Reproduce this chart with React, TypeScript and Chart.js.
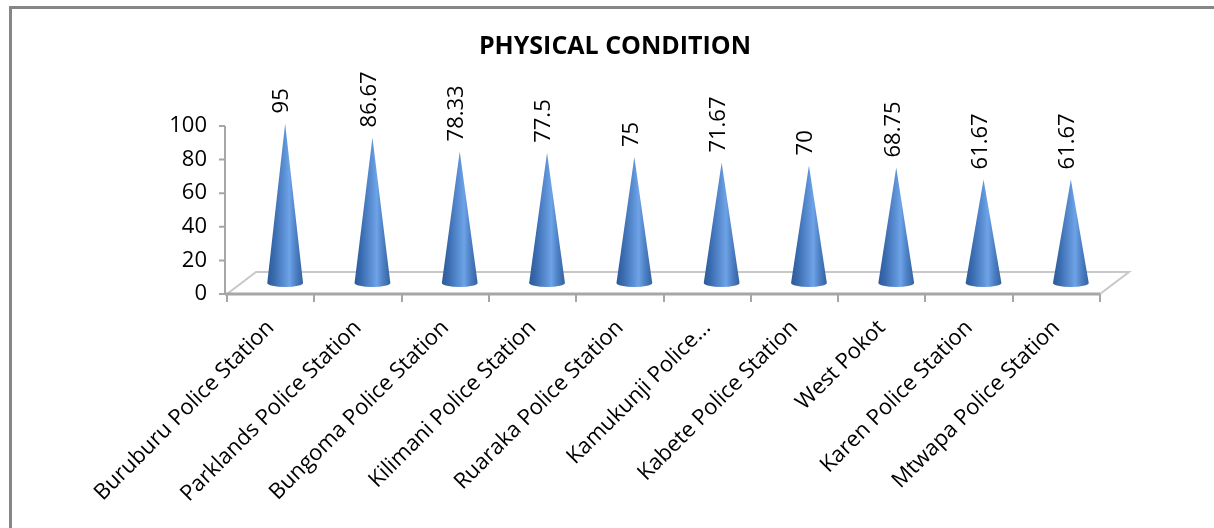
import React, { useEffect, useRef } from "react";
import { Chart, registerables } from "chart.js";

Chart.register(...registerables);

const chartTitle = "PHYSICAL CONDITION";
const categories = [
  "Buruburu Police Station",
  "Parklands Police Station",
  "Bungoma Police Station",
  "Kilimani Police Station",
  "Ruaraka Police Station",
  "Kamukunji Police...",
  "Kabete Police Station",
  "West Pokot",
  "Karen Police Station",
  "Mtwapa Police Station",
];
const values = [95, 86.67, 78.33, 77.5, 75, 71.67, 70, 68.75, 61.67, 61.67];
const valueLabels = ["95", "86.67", "78.33", "77.5", "75", "71.67", "70", "68.75", "61.67", "61.67"];
const yTickValues = [0, 20, 40, 60, 80, 100];

const W = 1214;
const H = 528;
const FONT = "'Open Sans', 'DejaVu Sans', sans-serif";
// 3D depth offset of the back wall relative to the front plane
const DX = 29;
const DY = -22;

const conePlugin = {
  id: "cone3d",
  beforeDraw(chart: any) {
    const ctx = chart.ctx;
    ctx.save();
    ctx.fillStyle = "#ffffff";
    ctx.fillRect(0, 0, chart.width, chart.height);
    // outer frame (top + left visible)
    ctx.strokeStyle = "#868686";
    ctx.lineWidth = 3;
    ctx.beginPath();
    ctx.moveTo(10.5, chart.height);
    ctx.lineTo(10.5, 7.5);
    ctx.lineTo(chart.width, 7.5);
    ctx.stroke();
    ctx.restore();
  },
  beforeDatasetsDraw(chart: any) {
    const ctx = chart.ctx;
    const xs = chart.scales.x;
    const ys = chart.scales.y;
    const y0 = ys.getPixelForValue(0);
    const left = xs.left;
    const right = xs.right;
    ctx.save();
    // floor: back edge + side diagonals
    ctx.strokeStyle = "#c8c8c8";
    ctx.lineWidth = 2;
    ctx.beginPath();
    ctx.moveTo(left, y0);
    ctx.lineTo(left + DX, y0 + DY);
    ctx.lineTo(right + DX, y0 + DY);
    ctx.lineTo(right, y0);
    ctx.stroke();
    // front edge (category axis)
    ctx.strokeStyle = "#a6a6a6";
    ctx.lineWidth = 3;
    ctx.beginPath();
    ctx.moveTo(left - 2, y0);
    ctx.lineTo(right, y0);
    ctx.stroke();
    // category tick marks at boundaries
    ctx.lineWidth = 2;
    const n = categories.length;
    const step = (right - left) / n;
    ctx.beginPath();
    for (let i = 0; i <= n; i++) {
      const x = Math.round(left + i * step);
      ctx.moveTo(x, y0);
      ctx.lineTo(x, y0 + 8);
    }
    ctx.stroke();
    // value axis line and ticks
    const ax = left - 2;
    ctx.beginPath();
    ctx.moveTo(ax, y0 + 1);
    ctx.lineTo(ax, ys.getPixelForValue(100));
    for (const t of yTickValues) {
      const y = ys.getPixelForValue(t);
      ctx.moveTo(ax - 6, y);
      ctx.lineTo(ax, y);
    }
    ctx.stroke();
    ctx.restore();
  },
  afterDatasetsDraw(chart: any) {
    const ctx = chart.ctx;
    const ys = chart.scales.y;
    const meta = chart.getDatasetMeta(0);
    ctx.save();
    meta.data.forEach((bar: any, i: number) => {
      const v = values[i];
      const cx = bar.x + DX / 2;
      const baseY = ys.getPixelForValue(0) + DY / 2;
      const apexY = ys.getPixelForValue(v) + DY / 2;
      const hw = bar.width / 2;
      const ry = 4;
      const g = ctx.createLinearGradient(cx - hw, 0, cx + hw, 0);
      g.addColorStop(0, "#2d5a98");
      g.addColorStop(0.2, "#3a6cb0");
      g.addColorStop(0.5, "#5f93d8");
      g.addColorStop(0.62, "#6ea3e8");
      g.addColorStop(0.8, "#4c7fc4");
      g.addColorStop(1, "#34629f");
      ctx.beginPath();
      ctx.moveTo(cx - hw, baseY);
      ctx.lineTo(cx, apexY);
      ctx.lineTo(cx + hw, baseY);
      ctx.ellipse(cx, baseY, hw, ry, 0, 0, Math.PI);
      ctx.closePath();
      ctx.fillStyle = g;
      ctx.fill();
      // value label, rotated
      ctx.save();
      ctx.translate(cx - 3, apexY - 10);
      ctx.rotate(-Math.PI / 2);
      ctx.fillStyle = "#000000";
      ctx.font = `22px ${FONT}`;
      ctx.textAlign = "left";
      ctx.textBaseline = "middle";
      ctx.fillText(valueLabels[i], 0, 0);
      ctx.restore();
    });
    ctx.restore();
  },
};

export default function App() {
  const ref = useRef<HTMLCanvasElement | null>(null);
  useEffect(() => {
    if (!ref.current) return;
    const chart = new Chart(ref.current, {
      type: "bar",
      data: {
        labels: categories,
        datasets: [
          {
            label: chartTitle,
            data: values,
            backgroundColor: "rgba(0,0,0,0)",
            borderWidth: 0,
            categoryPercentage: 1,
            barPercentage: 0.41,
          },
        ],
      },
      options: {
        responsive: false,
        animation: false,
        layout: { padding: { top: 0, left: 130, right: 114, bottom: 0 } },
        plugins: {
          legend: { display: false },
          tooltip: { enabled: false },
          title: {
            display: true,
            text: chartTitle,
            color: "#000000",
            font: { family: FONT, size: 25, weight: "bold", lineHeight: 1.2 },
            padding: { top: 32, bottom: 64 },
          },
        },
        scales: {
          x: {
            grid: { display: false, drawTicks: false },
            border: { display: false },
            ticks: {
              autoSkip: false,
              minRotation: 45,
              maxRotation: 45,
              padding: 21,
              color: "#000000",
              font: { family: FONT, size: 22 },
            },
            afterFit(scale: any) {
              scale.height = 234;
            },
          },
          y: {
            min: 0,
            max: 100,
            grid: { display: false, drawTicks: false },
            border: { display: false },
            ticks: {
              stepSize: 20,
              padding: 20,
              color: "#000000",
              font: { family: FONT, size: 22 },
            },
            afterFit(scale: any) {
              scale.width = 97;
            },
          },
        },
      },
      plugins: [conePlugin],
    });
    return () => chart.destroy();
  }, []);
  return (
    <canvas
      ref={ref}
      width={W}
      height={H}
      style={{ position: "absolute", left: 0, top: 0, display: "block" }}
    />
  );
}
